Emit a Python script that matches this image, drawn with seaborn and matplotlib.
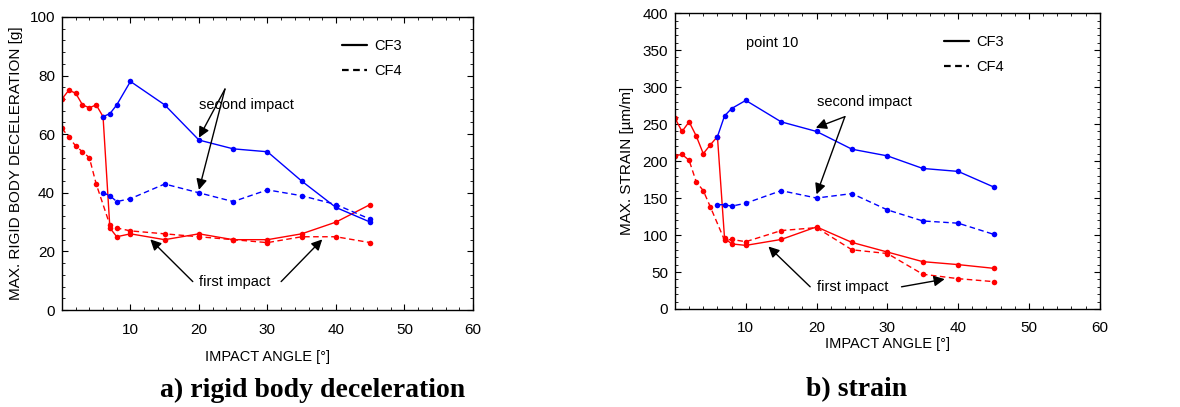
import matplotlib
matplotlib.use("Agg")
import matplotlib.pyplot as plt
from matplotlib.lines import Line2D
from matplotlib.ticker import MultipleLocator
import seaborn as sns
import pandas as pd

# impact angles [deg]
ang_low = [0, 1, 2, 3, 4, 5, 6]
ang_low_cf4 = [0, 1, 2, 3, 4, 5]
ang_high = [7, 8, 10, 15, 20, 25, 30, 35, 40, 45]
ang_second = [6, 7, 8, 10, 15, 20, 25, 30, 35, 40, 45]

# a) rigid body deceleration [g]
dec_first_cf3 = [72, 75, 74, 70, 69, 70, 66, 28, 25, 26, 24, 26, 24, 24, 26, 30, 36]
dec_first_cf4 = [62, 59, 56, 54, 52, 43, 29, 28, 27, 26, 25, 24, 23, 25, 25, 23]
dec_second_cf3 = [66, 67, 70, 78, 70, 58, 55, 54, 44, 35, 30]
dec_second_cf4 = [40, 39, 37, 38, 43, 40, 37, 41, 39, 36, 31]

# b) strain [um/m], point 10
str_first_cf3 = [258, 240, 253, 234, 210, 222, 233, 96, 88, 86, 94, 111, 90, 77, 64, 60, 55]
str_first_cf4 = [207, 209, 201, 172, 160, 138, 93, 94, 91, 106, 110, 80, 75, 47, 41, 37]
str_second_cf3 = [233, 261, 271, 282, 253, 240, 216, 207, 190, 186, 165]
str_second_cf4 = [141, 141, 139, 143, 160, 150, 156, 134, 119, 116, 101]


def make_df(f3, f4, s3, s4):
    parts = [
        pd.DataFrame({"angle": ang_low + ang_high, "value": f3, "impact": "first", "mat": "CF3"}),
        pd.DataFrame({"angle": ang_low_cf4 + ang_high, "value": f4, "impact": "first", "mat": "CF4"}),
        pd.DataFrame({"angle": ang_second, "value": s3, "impact": "second", "mat": "CF3"}),
        pd.DataFrame({"angle": ang_second, "value": s4, "impact": "second", "mat": "CF4"}),
    ]
    return pd.concat(parts, ignore_index=True)


sns.set_style("ticks")
plt.rcParams["font.family"] = ["Liberation Sans", "DejaVu Sans"]
plt.rcParams["text.color"] = "black"
plt.rcParams["axes.labelcolor"] = "black"
plt.rcParams["xtick.color"] = "black"
plt.rcParams["ytick.color"] = "black"

fig = plt.figure(figsize=(11.8, 4.07), dpi=100)
ax1 = fig.add_axes([0.0525, 0.2383, 0.3483, 0.72])
ax2 = fig.add_axes([0.572, 0.2408, 0.360, 0.727])

palette = {"first": "#ff0000", "second": "#0000ff"}
dashes = {"CF3": "", "CF4": (4, 2.5)}
markers = {"CF3": "o", "CF4": "o"}
txt = 10.5


def draw(ax, df, ymax, ymaj, ymin, ylabel):
    sns.lineplot(data=df, x="angle", y="value", hue="impact", style="mat",
                 palette=palette, dashes=dashes, markers=markers,
                 markersize=4, markeredgewidth=0, linewidth=1,
                 legend=False, ax=ax, sort=True)
    ax.set_xlim(0, 60)
    ax.set_ylim(0, ymax)
    ax.set_xticks([10, 20, 30, 40, 50, 60])
    ax.yaxis.set_major_locator(MultipleLocator(ymaj))
    ax.xaxis.set_minor_locator(MultipleLocator(2))
    ax.yaxis.set_minor_locator(MultipleLocator(ymin))
    ax.tick_params(which="both", direction="in", top=True, right=True,
                   labelsize=11)
    ax.tick_params(axis="x", pad=9)
    ax.tick_params(axis="y", pad=5)
    ax.tick_params(which="major", length=4, width=0.8)
    ax.tick_params(which="minor", length=2, width=0.6)
    for s in ax.spines.values():
        s.set_linewidth(1)
        s.set_color("black")
    ax.set_xlabel("IMPACT ANGLE [°]", fontsize=10.5)
    ax.set_ylabel(ylabel, fontsize=11)
    handles = [Line2D([], [], color="black", lw=1.6),
               Line2D([], [], color="black", lw=1.6, dashes=(3, 2))]
    return handles


leg = dict(loc="upper left", frameon=False, fontsize=txt, handlelength=1.7,
           handletextpad=0.5, labelspacing=0.75, borderpad=0, borderaxespad=0)

h = draw(ax1, make_df(dec_first_cf3, dec_first_cf4, dec_second_cf3, dec_second_cf4),
         100, 20, 4, "MAX. RIGID BODY DECELERATION [g]")
ax1.legend(h, ["CF3", "CF4"], bbox_to_anchor=(0.681, 0.925), **leg)
ax1.xaxis.labelpad = 10
ax1.yaxis.labelpad = 5

arrow = dict(arrowstyle="-|>", color="black", lw=1, mutation_scale=16, shrinkA=0, shrinkB=0)
ax1.text(20, 70, "second impact", fontsize=txt, va="center", ha="left")
ax1.annotate("", xy=(20, 58.8), xytext=(23.8, 75.4), arrowprops=arrow)
ax1.annotate("", xy=(20, 41), xytext=(23.8, 75.4), arrowprops=arrow)
ax1.text(20, 9.7, "first impact", fontsize=txt, va="center", ha="left")
ax1.annotate("", xy=(12.9, 24.1), xytext=(19.1, 9.7), arrowprops=arrow)
ax1.annotate("", xy=(38.0, 24.1), xytext=(32.0, 9.7), arrowprops=arrow)

h = draw(ax2, make_df(str_first_cf3, str_first_cf4, str_second_cf3, str_second_cf4),
         400, 50, 10, "MAX. STRAIN [µm/m]")
ax2.legend(h, ["CF3", "CF4"], bbox_to_anchor=(0.633, 0.927), **leg)
ax2.xaxis.labelpad = 1
ax2.yaxis.labelpad = 6
ax2.text(10, 360, "point 10", fontsize=txt, va="center", ha="left")
ax2.text(20, 280, "second impact", fontsize=txt, va="center", ha="left")
ax2.annotate("", xy=(19.9, 245), xytext=(24.0, 260), arrowprops=arrow)
ax2.annotate("", xy=(20.0, 155), xytext=(24.0, 260), arrowprops=arrow)
ax2.text(20, 30, "first impact", fontsize=txt, va="center", ha="left")
ax2.annotate("", xy=(13.2, 84.5), xytext=(19.1, 30), arrowprops=arrow)
ax2.annotate("", xy=(38.1, 40.4), xytext=(32.0, 30), arrowprops=arrow)

cap = dict(fontsize=20, fontweight="bold", family=["Liberation Serif", "DejaVu Serif"],
           ha="center", va="center", color="black")
fig.text(313 / 1180, 1 - 390 / 407, "a) rigid body deceleration", **cap)
fig.text(857 / 1180, 1 - 390 / 407, "b) strain", **cap)

fig.savefig("out.png", dpi=100)
